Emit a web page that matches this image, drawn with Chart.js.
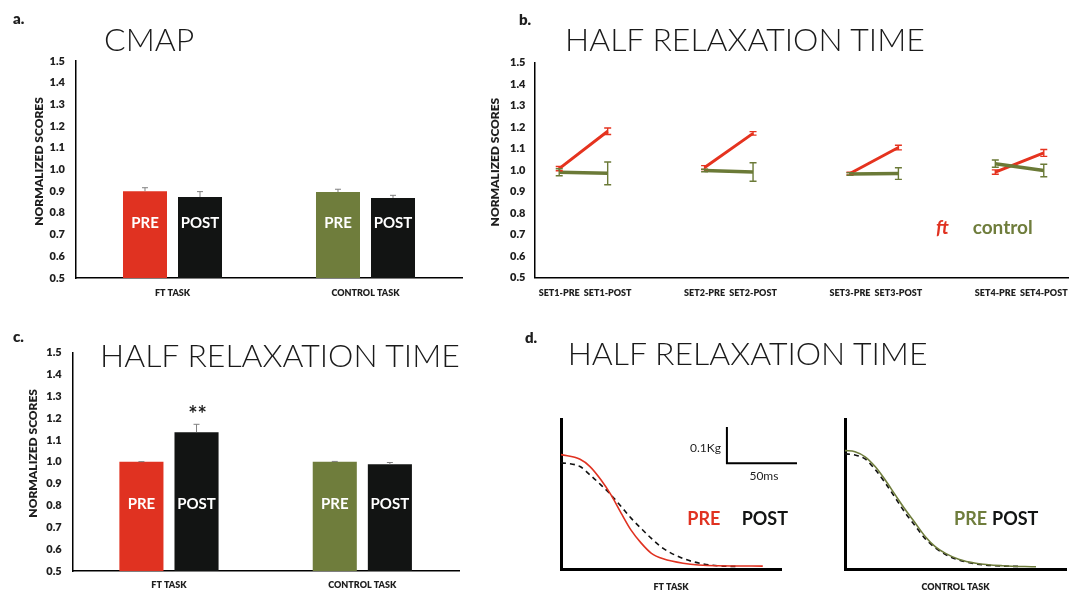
<!DOCTYPE html>
<html>
<head>
<meta charset="utf-8">
<script src="https://cdn.jsdelivr.net/npm/chart.js@4.4.1/dist/chart.umd.min.js"></script>
<style>
  html, body { margin: 0; padding: 0; background: #fff; }
  #page { position: relative; width: 1078px; height: 591px; overflow: hidden; font-family: Lato, "Open Sans", sans-serif; }
  canvas { position: absolute; }
  .txt { position: absolute; white-space: nowrap; line-height: 1; font-family: Lato, "Open Sans", sans-serif; }
</style>
</head>
<body>
<div id="page">
  <canvas id="cmapChart" width="480" height="300" style="left:0;top:0"></canvas>
  <canvas id="setsChart" width="598" height="300" style="left:480px;top:0"></canvas>
  <canvas id="hrtChart" width="480" height="291" style="left:0;top:300px"></canvas>
  <canvas id="ftTrace" width="310" height="212" style="left:500px;top:380px"></canvas>
  <canvas id="ctlTrace" width="268" height="212" style="left:810px;top:380px"></canvas>
</div>
<script>
// ---------- data ----------
const scoreTicks = [0.5, 0.6, 0.7, 0.8, 0.9, 1.0, 1.1, 1.2, 1.3, 1.4, 1.5];

// a. CMAP (normalized), mean and SEM
const taskLabels = ['FT TASK', 'CONTROL TASK'];
const cmapPre = [0.900, 0.896];
const cmapPost = [0.873, 0.869];
const cmapPreSem = [0.016, 0.013];
const cmapPostSem = [0.025, 0.012];

// c. half relaxation time (normalized), mean and SEM
const hrtPre = [1.000, 1.000];
const hrtPost = [1.136, 0.989];
const hrtPreSem = [0.001, 0.002];
const hrtPostSem = [0.036, 0.008];
const hrtPostMarks = ['**', ''];

// b. half relaxation time per set (gaps separate the sets)
const setLabels = ['SET1-PRE', 'SET1-POST', '', 'SET2-PRE', 'SET2-POST', '', 'SET3-PRE', 'SET3-POST', '', 'SET4-PRE', 'SET4-POST'];
const ftSets = [1.007, 1.181, null, 1.012, 1.171, null, 0.984, 1.105, null, 0.991, 1.080];
const ftSetsSem = [0.010, 0.015, null, 0.009, 0.008, null, 0.006, 0.011, null, 0.010, 0.016];
const controlSets = [0.990, 0.985, null, 0.998, 0.991, null, 0.982, 0.984, null, 1.030, 0.998];
const controlSetsSem = [0.016, 0.053, null, 0.006, 0.043, null, 0.006, 0.027, null, 0.017, 0.029];

// d. relaxation traces: time (ms) and force (Kg)
const ftPreTime = [0, 13.6, 20.7, 28.6, 35.7, 42.9, 50, 57.1, 64.3, 72.9, 87.1, 111.4, 144];
const ftPreForce = [0.315, 0.302, 0.282, 0.245, 0.204, 0.154, 0.107, 0.072, 0.044, 0.028, 0.016, 0.009, 0.008];
const ftPostTime = [0, 13.6, 20.7, 28.6, 35.7, 42.9, 50, 57.1, 64.3, 72.9, 87.1, 101.4, 115.7, 126];
const ftPostForce = [0.293, 0.282, 0.259, 0.231, 0.204, 0.172, 0.140, 0.112, 0.085, 0.057, 0.029, 0.014, 0.008, 0.007];
const ctlPreTime = [0, 7.1, 14.3, 21.4, 28.6, 35.7, 42.9, 50, 57.1, 64.3, 71.4, 80.7, 92.9, 112, 135.7];
const ctlPreForce = [0.326, 0.323, 0.309, 0.282, 0.245, 0.204, 0.163, 0.126, 0.089, 0.061, 0.043, 0.027, 0.016, 0.009, 0.006];
const ctlPostTime = [0, 7.1, 14.3, 21.4, 28.6, 35.7, 42.9, 50, 57.1, 64.3, 71.4, 80.7, 92.9, 112, 125];
const ctlPostForce = [0.317, 0.314, 0.303, 0.274, 0.237, 0.196, 0.154, 0.118, 0.083, 0.058, 0.040, 0.025, 0.014, 0.008, 0.007];

// calibration bar of the traces
const calib = { time: 118.4, force: 0.291, dt: 50, df: 0.1, timeText: '50ms', forceText: '0.1Kg' };

// ---------- style ----------
const FONT = 'Lato, "Open Sans", sans-serif';
const INK = '#1e1e1e';
const RED = '#e03221';
const GREEN = '#6f7d3c';
const BLACK = '#121413';
const RED_LINE = '#e5331f';
const GREEN_LINE = '#6b7a37';
const LABEL_WEIGHT = 800;

// ---------- plugins ----------
const errorBars = {
  id: 'errorBars',
  afterDatasetsDraw(chart) {
    const ctx = chart.ctx, y = chart.scales.y;
    chart.data.datasets.forEach((ds, i) => {
      if (!ds.errorValues) return;
      const st = ds.errorStyle;
      chart.getDatasetMeta(i).data.forEach((el, j) => {
        const v = ds.data[j], e = ds.errorValues[j];
        if (v == null || e == null) return;
        const x = el.x;
        const hi = y.getPixelForValue(v + e);
        const lo = y.getPixelForValue(st.upperOnly ? v : v - e);
        ctx.save();
        ctx.strokeStyle = st.color;
        ctx.lineWidth = st.width;
        ctx.beginPath();
        ctx.moveTo(x, lo); ctx.lineTo(x, hi);
        ctx.moveTo(x - st.cap, hi); ctx.lineTo(x + st.cap, hi);
        if (!st.upperOnly) { ctx.moveTo(x - st.cap, lo); ctx.lineTo(x + st.cap, lo); }
        ctx.stroke();
        ctx.restore();
      });
    });
  }
};

// white PRE / POST text inside bars and significance marks above them
const barText = {
  id: 'barText',
  afterDatasetsDraw(chart, args, opts) {
    const ctx = chart.ctx, y = chart.scales.y;
    chart.data.datasets.forEach((ds, i) => {
      chart.getDatasetMeta(i).data.forEach((el, j) => {
        ctx.save();
        if (ds.barText) {
          ctx.fillStyle = '#ffffff';
          ctx.font = 'bold 15px ' + FONT;
          ctx.textAlign = 'center';
          ctx.textBaseline = 'middle';
          ctx.fillText(ds.barText, el.x, y.getPixelForValue(opts.level));
        }
        if (ds.marks && ds.marks[j]) {
          const top = y.getPixelForValue(ds.data[j] + ds.errorValues[j]);
          ctx.fillStyle = INK;
          ctx.font = 'bold 22px ' + FONT;
          ctx.textAlign = 'center';
          ctx.textBaseline = 'alphabetic';
          ctx.fillText(ds.marks[j], el.x + 1, top - 2);
        }
        ctx.restore();
      });
    });
  }
};

// rotated value-axis caption
const axisCaption = {
  id: 'axisCaption',
  afterDraw(chart, args, opts) {
    if (!opts.text) return;
    const ctx = chart.ctx, a = chart.chartArea;
    ctx.save();
    ctx.translate(opts.x, (a.top + a.bottom) / 2 + opts.dy);
    ctx.rotate(-Math.PI / 2);
    ctx.fillStyle = INK;
    ctx.font = LABEL_WEIGHT + ' 12px ' + FONT;
    ctx.textAlign = 'center';
    ctx.textBaseline = 'middle';
    ctx.fillText(opts.text, 0, 0);
    ctx.restore();
  }
};

// force / time calibration bar
const calibBar = {
  id: 'calibBar',
  afterDraw(chart, args, opts) {
    if (!opts.show) return;
    const ctx = chart.ctx, xs = chart.scales.x, ys = chart.scales.y;
    const x0 = xs.getPixelForValue(calib.time), x1 = xs.getPixelForValue(calib.time + calib.dt);
    const y0 = ys.getPixelForValue(calib.force), y1 = ys.getPixelForValue(calib.force + calib.df);
    ctx.save();
    ctx.strokeStyle = '#000';
    ctx.lineWidth = 2;
    ctx.beginPath();
    ctx.moveTo(x0, y1); ctx.lineTo(x0, y0); ctx.lineTo(x1, y0);
    ctx.stroke();
    ctx.fillStyle = INK;
    ctx.font = '12px ' + FONT;
    ctx.textBaseline = 'middle';
    ctx.textAlign = 'right';
    ctx.fillText(calib.forceText, x0 - 6, (y0 + y1) / 2 + 3);
    ctx.textAlign = 'center';
    ctx.fillText(calib.timeText, (x0 + x1) / 2 + 2, y0 + 13);
    ctx.restore();
  }
};

Chart.register(errorBars, barText, axisCaption, calibBar);

// ---------- shared axes ----------
const scoreAxis = (width, pad) => ({
  min: 0.5, max: 1.5,
  afterBuildTicks: s => { s.ticks = scoreTicks.map(v => ({ value: v })); },
  afterFit: s => { s.width = width; },
  ticks: { autoSkip: false, padding: pad, color: INK, font: { family: FONT, weight: LABEL_WEIGHT, size: 11 }, callback: v => Number(v).toFixed(1) },
  grid: { display: false, drawTicks: false },
  border: { display: true, color: '#000', width: 1.5 }
});

const categoryAxis = (height, pad) => ({
  type: 'category', offset: true,
  afterFit: s => { s.height = height; },
  ticks: { autoSkip: false, maxRotation: 0, minRotation: 0, padding: pad, color: INK, font: { family: FONT, weight: LABEL_WEIGHT, size: 9 } },
  grid: { display: false, drawTicks: false },
  border: { display: true, color: '#000', width: 1.5 }
});

const quiet = { legend: { display: false }, tooltip: { enabled: false } };
const greyErr = { color: '#808080', width: 1, cap: 3, upperOnly: true };

function barPanel(id, pre, post, preSem, postSem, marks, level, pad, xHeight, xPad, caption) {
  return new Chart(document.getElementById(id), {
    type: 'bar',
    data: {
      labels: taskLabels,
      datasets: [
        { data: pre, backgroundColor: [RED, GREEN], base: 0.5, categoryPercentage: 0.57, barPercentage: 0.8,
          errorValues: preSem, errorStyle: greyErr, barText: 'PRE' },
        { data: post, backgroundColor: BLACK, base: 0.5, categoryPercentage: 0.57, barPercentage: 0.8,
          errorValues: postSem, errorStyle: greyErr, barText: 'POST', marks: marks }
      ]
    },
    options: {
      responsive: false, animation: false, events: [],
      layout: { padding: pad },
      plugins: Object.assign({ barText: { level: level }, axisCaption: caption }, quiet),
      scales: { x: categoryAxis(xHeight, xPad), y: scoreAxis(pad.yWidth, pad.tickPad) }
    }
  });
}

// a. CMAP
barPanel('cmapChart', cmapPre, cmapPost, cmapPreSem, cmapPostSem, null, 0.755,
  { top: 61, right: 18, bottom: 0, left: 0, yWidth: 76, tickPad: 11 }, 22, 9.6,
  { text: 'NORMALIZED SCORES', x: 39, dy: -8 });

// c. half relaxation time
barPanel('hrtChart', hrtPre, hrtPost, hrtPreSem, hrtPostSem, hrtPostMarks, 0.805,
  { top: 52.7, right: 21, bottom: 0, left: 0, yWidth: 72.3, tickPad: 10.6 }, 20, 8.6,
  { text: 'NORMALIZED SCORES', x: 33.3, dy: -8.5 });

// b. sets
new Chart(document.getElementById('setsChart'), {
  type: 'line',
  data: {
    labels: setLabels,
    datasets: [
      { data: ftSets, borderColor: RED_LINE, borderWidth: 3, pointRadius: 0, tension: 0, order: 1,
        errorValues: ftSetsSem, errorStyle: { color: RED_LINE, width: 1.4, cap: 3.5 } },
      { data: controlSets, borderColor: GREEN_LINE, borderWidth: 3.5, pointRadius: 0, tension: 0, order: 0,
        errorValues: controlSetsSem, errorStyle: { color: GREEN_LINE, width: 1.4, cap: 3.5 } }
    ]
  },
  options: {
    responsive: false, animation: false, events: [],
    layout: { padding: { top: 62.7, right: 10, bottom: 0, left: 0 } },
    plugins: Object.assign({ axisCaption: { text: 'NORMALIZED SCORES', x: 15, dy: -8 } }, quiet),
    scales: { x: categoryAxis(22.5, 9.8), y: scoreAxis(55, 9.5) }
  }
});

// d. traces
function tracePanel(id, series, caption, yWidth, padRight, showCalib) {
  return new Chart(document.getElementById(id), {
    type: 'line',
    data: {
      datasets: series.map(s => ({
        data: s.t.map((t, i) => ({ x: t, y: s.f[i] })),
        borderColor: s.color, borderWidth: 1.6, borderDash: s.dash || [],
        pointRadius: 0, cubicInterpolationMode: 'monotone', order: s.order
      }))
    },
    options: {
      responsive: false, animation: false, events: [],
      layout: { padding: { top: 39, right: padRight, bottom: 0, left: 0 } },
      plugins: Object.assign({ calibBar: { show: showCalib } }, quiet),
      scales: {
        x: { type: 'linear', min: 0, max: 157,
             afterFit: s => { s.height = 23; },
             ticks: { display: false }, grid: { display: false, drawTicks: false },
             border: { display: true, color: '#000', width: 3 },
             title: { display: true, text: caption, color: INK, padding: { top: 0, bottom: 0 },
                      font: { family: FONT, weight: LABEL_WEIGHT, size: 9 } } },
        y: { type: 'linear', min: 0, max: 0.413,
             afterFit: s => { s.width = yWidth; },
             ticks: { display: false }, grid: { display: false, drawTicks: false },
             border: { display: true, color: '#000', width: 3 } }
      }
    }
  });
}

tracePanel('ftTrace', [
  { t: ftPreTime, f: ftPreForce, color: RED, order: 0 },
  { t: ftPostTime, f: ftPostForce, color: '#111', dash: [5, 4], order: 1 }
], 'FT TASK', 61, 29, true);

tracePanel('ctlTrace', [
  { t: ctlPreTime, f: ctlPreForce, color: GREEN, order: 0 },
  { t: ctlPostTime, f: ctlPostForce, color: '#111', dash: [5, 4], order: 1 }
], 'CONTROL TASK', 35, 12, false);

// ---------- panel letters, titles and legends ----------
const page = document.getElementById('page');
function placeText(str, x, baseline, size, weight, color, style) {
  const d = document.createElement('div');
  d.className = 'txt';
  d.textContent = str;
  d.style.left = x + 'px';
  d.style.top = (baseline - 0.887 * size) + 'px';
  d.style.fontSize = size + 'px';
  d.style.fontWeight = weight;
  d.style.color = color;
  if (style) d.style.fontStyle = style;
  page.appendChild(d);
}

placeText('a.', 13, 24, 15, 800, INK);
placeText('b.', 519, 25, 15, 800, INK);
placeText('c.', 13, 342.3, 15, 800, INK);
placeText('d.', 525, 343, 15, 800, INK);

placeText('CMAP', 104, 51.7, 32, 300, '#1a1a1a');
placeText('HALF RELAXATION TIME', 565, 51, 32, 300, '#1a1a1a');
placeText('HALF RELAXATION TIME', 100, 367.3, 32, 300, '#1a1a1a');
placeText('HALF RELAXATION TIME', 567.7, 365, 32, 300, '#1a1a1a');

placeText('ft', 936, 233.5, 19, 700, RED, 'italic');
placeText('control', 972.7, 233.5, 19, 700, GREEN);

placeText('PRE', 687.3, 525, 18, 700, RED);
placeText('POST', 741.7, 525, 18, 700, BLACK);
placeText('PRE', 954, 525, 18, 700, GREEN);
placeText('POST', 992, 525, 18, 700, BLACK);
</script>
</body>
</html>
